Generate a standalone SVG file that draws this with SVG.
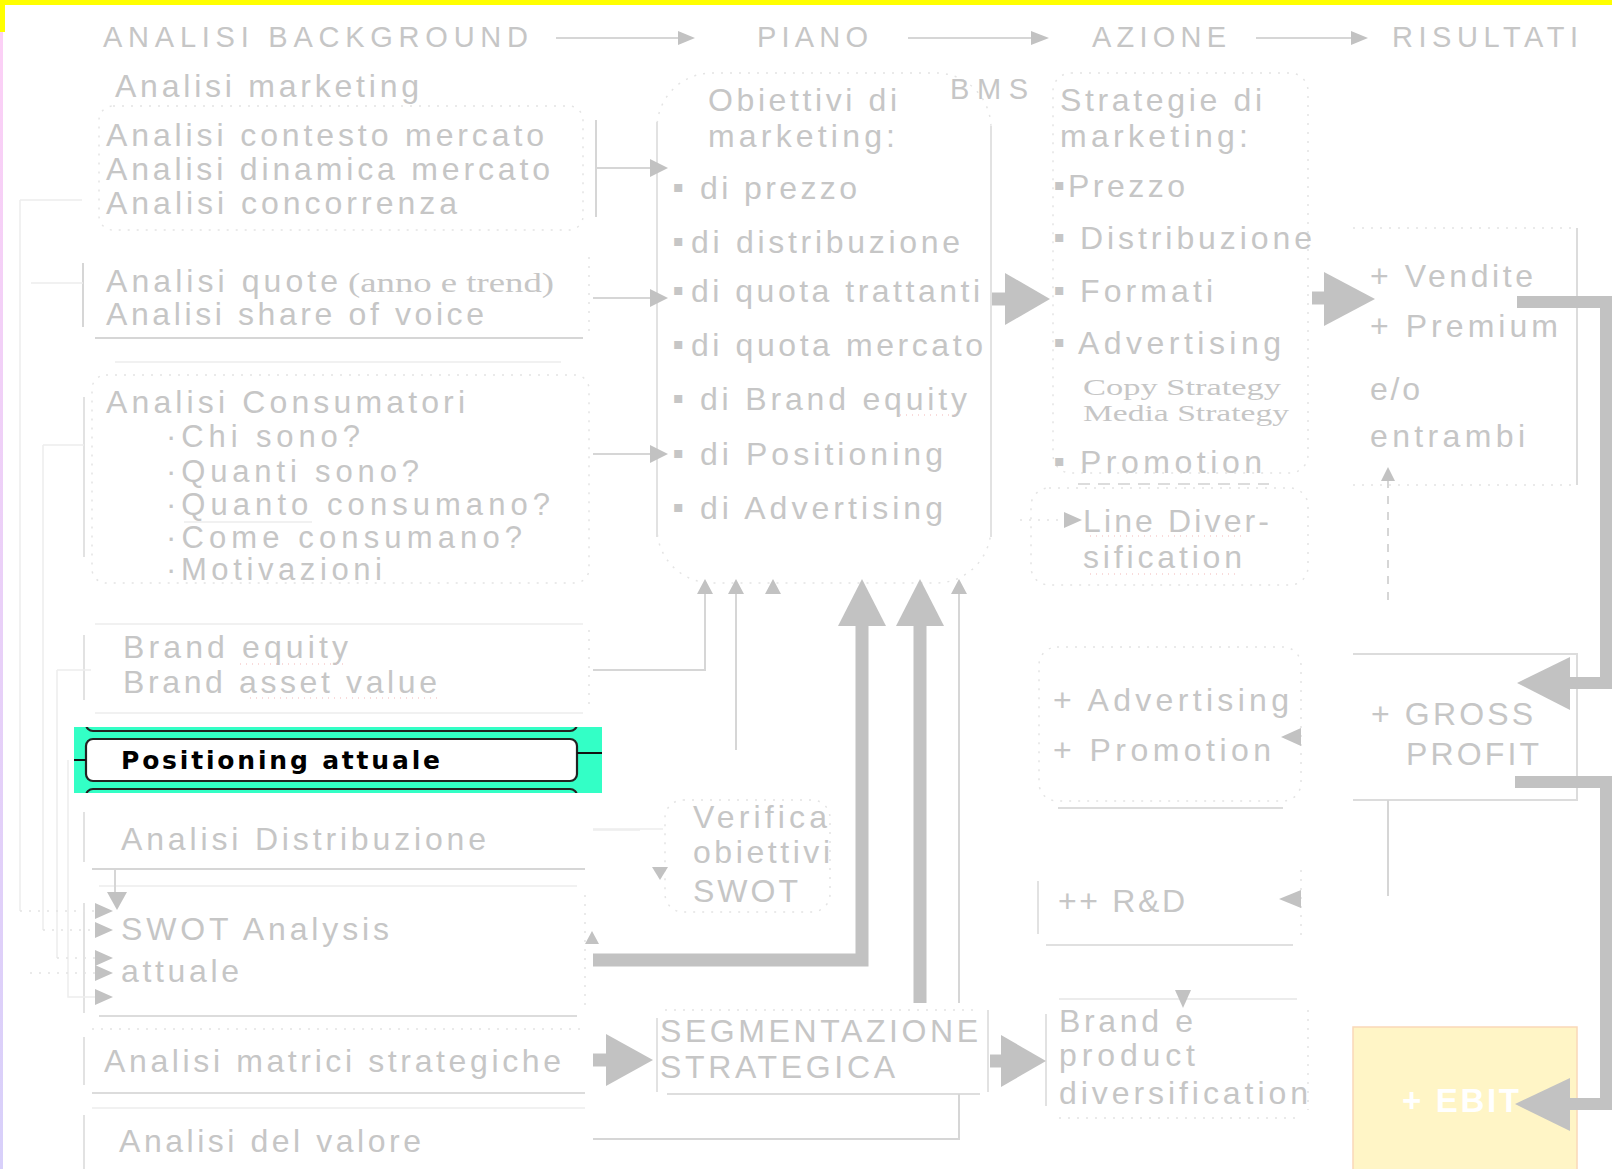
<svg xmlns="http://www.w3.org/2000/svg" width="1612" height="1169" viewBox="0 0 1612 1169">
<defs>
<style>
.t{font-family:"Liberation Sans",Arial,sans-serif;fill:#c6c6c6;font-size:32px}
.h{font-size:29px}
.c{font-size:31px}
.s{font-family:"Liberation Serif","Times New Roman",serif;fill:#c6c6c6;font-size:27px}
.s2{font-size:23px}
.b{font-family:"DejaVu Sans","Liberation Sans",sans-serif;fill:#c6c6c6;font-size:16px}
.ln{stroke:#d6d6d6;stroke-width:2;fill:none}
.fn{stroke:#ededed;stroke-width:1.5;fill:none}
.dt{stroke:#e4e4e4;stroke-width:1.5;fill:none;stroke-dasharray:2 7}
.th{stroke:#c2c2c2;stroke-width:13;fill:none}
.ah{fill:#c2c2c2}
.sp{stroke:#f4b8b8;stroke-width:1.2;fill:none;stroke-dasharray:1 5}
</style>
<linearGradient id="edge" x1="0" y1="0" x2="0" y2="1">
<stop offset="0" stop-color="#fcd0f6"/>
<stop offset="1" stop-color="#d8d0fa"/>
</linearGradient>
<clipPath id="cy"><rect x="74" y="727" width="528" height="66"/></clipPath>
</defs>
<rect x="0" y="0" width="1612" height="1169" fill="#ffffff"/>
<rect x="0" y="32" width="3" height="1137" fill="url(#edge)"/>
<rect x="0" y="0" width="1612" height="5" fill="#ffff00"/>
<rect x="0" y="0" width="5" height="32" fill="#ffff00"/>

<g id="headers">
<text class="t h" x="103" y="47" textLength="425" lengthAdjust="spacing">ANALISI BACKGROUND</text>
<text class="t h" x="757" y="47" textLength="111" lengthAdjust="spacing">PIANO</text>
<text class="t h" x="1092" y="47" textLength="134" lengthAdjust="spacing">AZIONE</text>
<text class="t h" x="1392" y="47" textLength="186" lengthAdjust="spacing">RISULTATI</text>
</g>

<g id="n-analisi-marketing">
<text class="t" x="115" y="97" textLength="304" lengthAdjust="spacing">Analisi marketing</text>
</g>

<g id="n-contesto">
<rect class="dt" x="99" y="106" width="484" height="124" rx="14"/>
<text class="t" x="106" y="146" textLength="438" lengthAdjust="spacing">Analisi contesto mercato</text>
<text class="t" x="106" y="180" textLength="444" lengthAdjust="spacing">Analisi dinamica mercato</text>
<text class="t" x="106" y="214" textLength="351" lengthAdjust="spacing">Analisi concorrenza</text>
</g>

<g id="n-quote">
<path class="ln" d="M83,263V327"/>
<path class="ln" d="M95,338H583"/>
<path class="dt" d="M589,257V332"/>
<text class="t" x="106" y="292" textLength="232" lengthAdjust="spacing">Analisi quote</text>
<text class="s" x="348" y="292" textLength="206" lengthAdjust="spacingAndGlyphs">(anno e trend)</text>
<text class="t" x="106" y="325" textLength="378" lengthAdjust="spacing">Analisi share of voice</text>
</g>

<g id="n-consumatori">
<path class="fn" d="M115,362H561"/>
<path class="ln" style="stroke:#e2e2e2" d="M84,397V557"/>
<rect class="dt" x="92" y="375" width="497" height="208" rx="14"/>
<text class="t" x="106" y="413" textLength="359" lengthAdjust="spacing">Analisi Consumatori</text>
<text class="t c" x="166" y="447" textLength="194" lengthAdjust="spacing">·Chi sono?</text>
<text class="t c" x="166" y="482" textLength="253" lengthAdjust="spacing">·Quanti sono?</text>
<text class="t c" x="166" y="515" textLength="384" lengthAdjust="spacing">·Quanto consumano?</text>
<path class="fn" d="M184,522H312"/>
<text class="t c" x="166" y="548" textLength="356" lengthAdjust="spacing">·Come consumano?</text>
<text class="t c" x="166" y="580" textLength="216" lengthAdjust="spacing">·Motivazioni</text>
</g>

<g id="n-brand-equity">
<path class="fn" d="M95,624H583M95,713H583"/>
<path class="ln" style="stroke:#e2e2e2" d="M84,635V700"/>
<path class="dt" d="M589,630V705"/>
<text class="t" x="123" y="658" textLength="225" lengthAdjust="spacing">Brand equity</text>
<text class="t" x="123" y="693" textLength="314" lengthAdjust="spacing">Brand asset value</text>
<path class="sp" d="M240,664H348M250,698H437"/>
</g>

<g id="n-positioning">
<rect x="74" y="727" width="528" height="66" fill="#33ffc6"/>
<g clip-path="url(#cy)">
<rect x="86" y="690" width="491" height="41" rx="7" fill="none" stroke="#222" stroke-width="2.2"/>
<rect x="86" y="789" width="491" height="41" rx="7" fill="none" stroke="#222" stroke-width="2.2"/>
</g>
<rect x="86" y="739" width="491" height="42" rx="7" fill="#ffffff" stroke="#222" stroke-width="2.2"/>
<path d="M74,760H86M577,753H602" stroke="#111" stroke-width="2" fill="none"/>
<text x="121" y="769" textLength="319" lengthAdjust="spacing" style="font-family:'DejaVu Sans','Liberation Sans',sans-serif;font-weight:bold;font-size:25px;fill:#000">Positioning attuale</text>
</g>

<g id="n-distribuzione">
<path class="ln" style="stroke:#e2e2e2" d="M84,812V862"/>
<path class="ln" d="M92,869H585"/>
<path class="fn" d="M593,830H640"/>
<text class="t" x="121" y="850" textLength="365" lengthAdjust="spacing">Analisi Distribuzione</text>
</g>

<g id="n-swot">
<path class="fn" d="M99,886H577"/>
<path class="ln" style="stroke:#dcdcdc" d="M99,1016H577"/>
<path class="ln" style="stroke:#e2e2e2" d="M84,903V1013"/>
<path class="dt" d="M585,895V1005"/>
<text class="t" x="121" y="940" textLength="268" lengthAdjust="spacing">SWOT Analysis</text>
<text class="t" x="121" y="982" textLength="118" lengthAdjust="spacing">attuale</text>
</g>

<g id="n-matrici">
<path class="ln" style="stroke:#e2e2e2" d="M84,1037V1085"/>
<path class="ln" style="stroke:#dcdcdc" d="M92,1093H585"/>
<path class="dt" d="M92,1029H585"/>
<text class="t" x="104" y="1072" textLength="457" lengthAdjust="spacing">Analisi matrici strategiche</text>
</g>

<g id="n-valore">
<path class="fn" d="M92,1108H585"/>
<path class="ln" style="stroke:#e2e2e2" d="M84,1115V1169"/>
<text class="t" x="119" y="1152" textLength="302" lengthAdjust="spacing">Analisi del valore</text>
</g>

<g id="n-obiettivi">
<rect class="dt" x="657" y="73" width="334" height="510" rx="55"/>
<path class="ln" style="stroke:#e2e2e2" d="M657,122V537M991,126V537"/>
<text class="t" x="708" y="111" textLength="189" lengthAdjust="spacing">Obiettivi di</text>
<text class="t" x="708" y="147" textLength="187" lengthAdjust="spacing">marketing:</text>
<text class="b" x="673" y="192">▪</text>
<text class="t" x="700" y="199" textLength="157" lengthAdjust="spacing">di prezzo</text>
<text class="b" x="673" y="246">▪</text>
<text class="t" x="691" y="253" textLength="269" lengthAdjust="spacing">di distribuzione</text>
<text class="b" x="673" y="295">▪</text>
<text class="t" x="691" y="302" textLength="289" lengthAdjust="spacing">di quota trattanti</text>
<text class="b" x="673" y="349">▪</text>
<text class="t" x="691" y="356" textLength="292" lengthAdjust="spacing">di quota mercato</text>
<text class="b" x="673" y="403">▪</text>
<text class="t" x="700" y="410" textLength="267" lengthAdjust="spacing">di Brand equity</text>
<path class="sp" d="M900,415H958"/>
<text class="b" x="673" y="458">▪</text>
<text class="t" x="700" y="465" textLength="243" lengthAdjust="spacing">di Positioning</text>
<text class="b" x="673" y="512">▪</text>
<text class="t" x="700" y="519" textLength="243" lengthAdjust="spacing">di Advertising</text>
</g>

<g id="n-bms">
<text class="t h" x="950" y="99" textLength="78" lengthAdjust="spacing">BMS</text>
</g>

<g id="n-verifica">
<rect class="dt" x="665" y="800" width="165" height="112" rx="18"/>
<text class="t" x="693" y="828" textLength="134" lengthAdjust="spacing">Verifica</text>
<text class="t" x="693" y="863" textLength="137" lengthAdjust="spacing">obiettivi</text>
<text class="t" x="693" y="902" textLength="105" lengthAdjust="spacing">SWOT</text>
</g>

<g id="n-segmentazione">
<path class="dt" d="M665,1010H980"/>
<path class="ln" style="stroke:#e2e2e2" d="M657,1018V1092M988,1010V1092"/>
<path class="ln" style="stroke:#dedede" d="M667,1094H980"/>
<text class="t" x="660" y="1042" textLength="318" lengthAdjust="spacing">SEGMENTAZIONE</text>
<text class="t" x="660" y="1078" textLength="235" lengthAdjust="spacing">STRATEGICA</text>
</g>

<g id="n-strategie">
<rect class="dt" x="1053" y="73" width="255" height="400" rx="18"/>
<text class="t" x="1060" y="111" textLength="202" lengthAdjust="spacing">Strategie di</text>
<text class="t" x="1060" y="147" textLength="188" lengthAdjust="spacing">marketing:</text>
<text class="b" x="1054" y="190">▪</text>
<text class="t" x="1068" y="197" textLength="117" lengthAdjust="spacing">Prezzo</text>
<text class="b" x="1054" y="242">▪</text>
<text class="t" x="1080" y="249" textLength="232" lengthAdjust="spacing">Distribuzione</text>
<text class="b" x="1054" y="295">▪</text>
<text class="t" x="1080" y="302" textLength="133" lengthAdjust="spacing">Formati</text>
<text class="b" x="1054" y="347">▪</text>
<text class="t" x="1078" y="354" textLength="203" lengthAdjust="spacing">Advertising</text>
<text class="s s2" x="1083" y="395" textLength="198" lengthAdjust="spacingAndGlyphs">Copy Strategy</text>
<text class="s s2" x="1083" y="421" textLength="206" lengthAdjust="spacingAndGlyphs">Media Strategy</text>
<text class="b" x="1054" y="466">▪</text>
<text class="t" x="1080" y="473" textLength="182" lengthAdjust="spacing">Promotion</text>
<path class="ln" style="stroke-dasharray:12 8;stroke:#dcdcdc" d="M1078,484H1269"/>
</g>

<g id="n-line-diversification">
<rect class="dt" x="1031" y="488" width="277" height="97" rx="18"/>
<text class="t" x="1083" y="532" textLength="186" lengthAdjust="spacing">Line Diver-</text>
<text class="t" x="1083" y="568" textLength="159" lengthAdjust="spacing">sification</text>
<path class="sp" d="M1090,536H1245M1090,574H1240"/>
</g>

<g id="n-vendite">
<path class="dt" d="M1353,228H1577M1353,485H1577"/>
<path class="ln" style="stroke:#dcdcdc" d="M1577,228V485"/>
<text class="t" x="1370" y="287" textLength="163" lengthAdjust="spacing">+ Vendite</text>
<text class="t" x="1370" y="337" textLength="188" lengthAdjust="spacing">+ Premium</text>
<text class="t" x="1370" y="400" textLength="50" lengthAdjust="spacing">e/o</text>
<text class="t" x="1370" y="447" textLength="155" lengthAdjust="spacing">entrambi</text>
</g>

<g id="n-gross-profit">
<path class="ln" style="stroke:#dcdcdc" d="M1353,654H1577V800H1353"/>
<text class="t" x="1371" y="725" textLength="162" lengthAdjust="spacing">+ GROSS</text>
<text class="t" x="1406" y="765" textLength="133" lengthAdjust="spacing">PROFIT</text>
</g>

<g id="n-adv-promo">
<rect class="dt" x="1039" y="647" width="262" height="154" rx="18"/>
<path class="ln" style="stroke:#dcdcdc" d="M1058,808H1283"/>
<text class="t" x="1053" y="711" textLength="236" lengthAdjust="spacing">+ Advertising</text>
<text class="t" x="1053" y="761" textLength="218" lengthAdjust="spacing">+ Promotion</text>
</g>

<g id="n-rd">
<path class="ln" style="stroke:#e2e2e2" d="M1038,881V934"/>
<path class="ln" style="stroke:#e0e0e0" d="M1046,945H1293"/>
<path class="dt" d="M1301,870V935"/>
<text class="t" x="1058" y="912" textLength="127" lengthAdjust="spacing">++ R&amp;D</text>
</g>

<g id="n-brand-product">
<path class="fn" style="stroke:#e6e6e6" d="M1059,999H1297"/>
<path class="ln" style="stroke:#e2e2e2" d="M1046,1014V1106"/>
<path class="dt" d="M1308,1010V1110M1059,1118H1297"/>
<text class="t" x="1059" y="1032" textLength="134" lengthAdjust="spacing">Brand e</text>
<text class="t" x="1059" y="1066" textLength="136" lengthAdjust="spacing">product</text>
<text class="t" x="1059" y="1104" textLength="249" lengthAdjust="spacing">diversification</text>
</g>

<g id="n-ebit">
<rect x="1353" y="1027" width="224" height="150" fill="#fff5c6" stroke="#fad8b8" stroke-width="1.5"/>
<text x="1402" y="1112" textLength="117" lengthAdjust="spacing" style="font-family:'Liberation Sans',Arial,sans-serif;font-weight:bold;font-size:33px;fill:#ffffff">+ EBIT</text>
</g>

<g id="connectors">
<path class="ln" d="M556,38H680M908,38H1032M1256,38H1352"/>
<polygon class="ah" points="678,31 695,38 678,45"/>
<polygon class="ah" points="1031,31 1049,38 1031,45"/>
<polygon class="ah" points="1351,31 1368,38 1351,45"/>
<path class="ln" d="M596,120V217M596,168H652M593,298H652M593,454H652"/>
<polygon class="ah" points="650,159 668,168 650,177"/>
<polygon class="ah" points="650,289 668,298 650,307"/>
<polygon class="ah" points="650,445 668,454 650,463"/>
<path class="ln" d="M593,670H705V594M736,750V594M959,1003V594"/>
<polygon class="ah" points="697,594 705,579 713,594"/>
<polygon class="ah" points="728,594 736,579 744,594"/>
<polygon class="ah" points="765,594 773,579 781,594"/>
<polygon class="ah" points="951,594 959,579 967,594"/>
<path class="th" d="M593,960H862V622"/>
<polygon class="ah" points="838,626 862,579 886,626"/>
<path class="th" d="M920,1003V622"/>
<polygon class="ah" points="896,626 920,579 944,626"/>
<path class="fn" d="M593,829H663"/>
<polygon class="ah" points="652,867 668,867 660,880"/>
<polygon class="ah" points="585,944 592,931 599,944"/>
<path class="th" d="M593,1060H610"/>
<polygon class="ah" points="606,1034 653,1060 606,1086"/>
<path class="th" d="M990,1061H1005"/>
<polygon class="ah" points="1001,1035 1046,1061 1001,1087"/>
<path class="ln" d="M959,1094V1139H593"/>
<path class="th" d="M992,299H1008"/>
<polygon class="ah" points="1005,273 1050,299 1005,325"/>
<path class="th" d="M1312,298H1328"/>
<polygon class="ah" points="1324,272 1375,299 1324,326"/>
<path class="th" style="stroke-width:12" d="M1517,302H1606V683H1566"/>
<polygon class="ah" points="1570,657 1517,683 1570,710"/>
<path class="th" style="stroke-width:12" d="M1515,782H1606V1104H1566"/>
<polygon class="ah" points="1570,1078 1515,1104 1570,1131"/>
<path class="ln" style="stroke-dasharray:8 8" d="M1388,480V600"/>
<polygon class="ah" points="1381,481 1388,467 1395,481"/>
<path class="ln" d="M1388,800V896"/>
<polygon class="ah" points="1301,728 1281,737 1301,746"/>
<polygon class="ah" points="1301,890 1279,899 1301,908"/>
<polygon class="ah" points="1175,990 1191,990 1183,1008"/>
<path class="dt" d="M1020,520H1064"/>
<polygon class="ah" points="1064,512 1082,520 1064,528"/>
<path class="fn" d="M20,200H82M20,200V911M31,283H83M43,445H84M43,445V930M57,670H91M57,670V958M68,760V997H95"/>
<path class="dt" d="M20,911H95M43,930H95M57,958H95M30,973H95"/>
<polygon class="ah" points="95,903 113,911 95,919"/>
<polygon class="ah" points="95,922 113,930 95,938"/>
<polygon class="ah" points="95,950 113,958 95,966"/>
<polygon class="ah" points="95,965 113,973 95,981"/>
<polygon class="ah" points="95,989 113,997 95,1005"/>
<path class="ln" d="M115,869V894"/>
<polygon class="ah" points="107,892 127,892 117,910"/>
</g>
</svg>
